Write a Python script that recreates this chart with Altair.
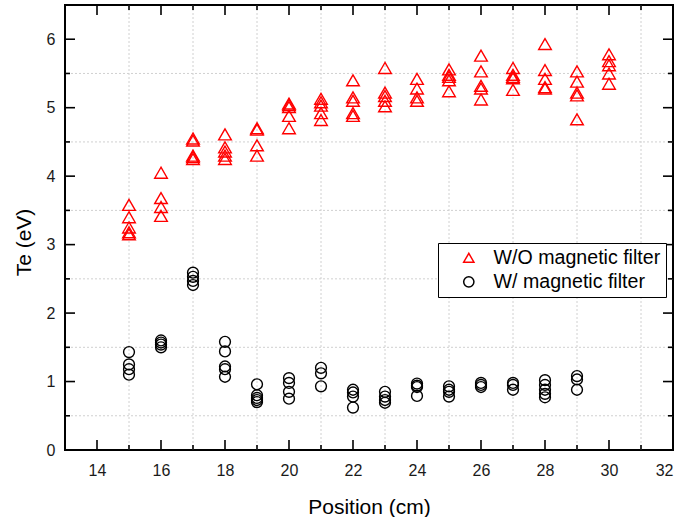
import altair as alt
import pandas as pd

# Electron temperature vs. position, with and without the magnetic filter
series_names = ["W/O magnetic filter", "W/ magnetic filter"]
series_colors = ["#ff0000", "#000000"]
series_shapes = ["triangle-up", "circle"]

positions_without = [15, 16, 17, 18, 19, 20, 21, 22, 23, 24, 25, 26, 27, 28, 29, 30]
te_without = [
    [3.58, 3.40, 3.25, 3.18, 3.15],
    [4.05, 3.68, 3.55, 3.42],
    [4.55, 4.52, 4.30, 4.28, 4.25],
    [4.61, 4.42, 4.36, 4.30, 4.25],
    [4.70, 4.68, 4.45, 4.30],
    [5.06, 5.04, 5.01, 4.88, 4.70],
    [5.13, 5.08, 5.03, 4.92, 4.82],
    [5.40, 5.15, 5.10, 4.92, 4.88],
    [5.58, 5.22, 5.17, 5.10, 5.02],
    [5.42, 5.28, 5.15, 5.10],
    [5.56, 5.48, 5.45, 5.40, 5.24],
    [5.76, 5.53, 5.32, 5.28, 5.12],
    [5.58, 5.48, 5.45, 5.43, 5.26],
    [5.93, 5.55, 5.42, 5.30, 5.28],
    [5.53, 5.38, 5.22, 5.18, 4.83],
    [5.78, 5.68, 5.62, 5.50, 5.35],
]

positions_with = [15, 16, 17, 18, 19, 20, 21, 22, 23, 24, 25, 26, 27, 28, 29]
te_with = [
    [1.43, 1.25, 1.18, 1.10],
    [1.60, 1.57, 1.54, 1.50],
    [2.59, 2.53, 2.47, 2.41],
    [1.58, 1.44, 1.22, 1.18, 1.07],
    [0.96, 0.80, 0.76, 0.73, 0.70],
    [1.05, 0.98, 0.85, 0.75],
    [1.20, 1.12, 0.93],
    [0.88, 0.84, 0.78, 0.62],
    [0.85, 0.78, 0.73, 0.69],
    [0.97, 0.94, 0.92, 0.79],
    [0.93, 0.88, 0.85, 0.78],
    [0.98, 0.95, 0.92],
    [0.98, 0.95, 0.88],
    [1.02, 0.95, 0.88, 0.82, 0.77],
    [1.08, 1.03, 0.88],
]

x_labels = [14, 16, 18, 20, 22, 24, 26, 28, 30, 32]
y_labels = [0, 1, 2, 3, 4, 5, 6]
x_major_ticks = [14, 16, 18, 20, 22, 24, 26, 28, 30]
x_minor_ticks = [15, 17, 19, 21, 23, 25, 27, 29, 31]
y_major_ticks = [1, 2, 3, 4, 5, 6]
y_minor_ticks = [0.5, 1.5, 2.5, 3.5, 4.5, 5.5]
x_grid = x_minor_ticks
y_grid = y_minor_ticks

W, H = 608, 445
FONT = "Liberation Sans"

rows = []
for pos, vals in zip(positions_without, te_without):
    for v in vals:
        rows.append({"position": pos, "te": v, "series": series_names[0], "msize": 160})
for pos, vals in zip(positions_with, te_with):
    for v in vals:
        rows.append({"position": pos, "te": v, "series": series_names[1], "msize": 118})
df = pd.DataFrame(rows)

xscale = alt.Scale(domain=[13, 32], nice=False, zero=False)
yscale = alt.Scale(domain=[0, 6.5], nice=False, zero=False)

# one axis definition per direction, shared by every layer so they merge cleanly
x_axis = alt.Axis(
    values=x_labels, title="Position (cm)", grid=False, ticks=False, domain=False,
    labelPadding=12, titleY=57, titleBaseline="middle", titleX=W / 2)
y_axis = alt.Axis(
    values=y_labels, title="Te (eV)", grid=False, ticks=False, domain=False,
    labelPadding=10, titleX=-41, titleY=237, titleBaseline="middle", titleAngle=270)

legend = alt.Legend(
    title=None, orient="none", legendX=373, legendY=238,
    strokeColor="black", fillColor="white", padding=5,
    labelFont=FONT, labelFontSize=19.6, labelColor="black", labelLimit=400,
    symbolSize=105, symbolStrokeWidth=1.5, symbolOffset=16,
    labelOffset=15, rowPadding=3,
)

points = alt.Chart(df).mark_point(filled=False, strokeWidth=1.4, opacity=1).encode(
    x=alt.X("position:Q", scale=xscale, axis=x_axis),
    y=alt.Y("te:Q", scale=yscale, axis=y_axis),
    color=alt.Color("series:N", scale=alt.Scale(domain=series_names, range=series_colors), legend=legend),
    shape=alt.Shape("series:N", scale=alt.Scale(domain=series_names, range=series_shapes), legend=legend),
    size=alt.Size("msize:Q", scale=None),
)


def grid(values, vertical):
    base = alt.Chart(pd.DataFrame({"v": values})).mark_rule(
        color="#d0d0d0", strokeWidth=1, strokeDash=[2, 2])
    if vertical:
        return base.encode(x=alt.X("v:Q", scale=xscale, axis=x_axis))
    return base.encode(y=alt.Y("v:Q", scale=yscale, axis=y_axis))


def ticks(values, side, length):
    base = alt.Chart(pd.DataFrame({"v": values})).mark_rule(color="black", strokeWidth=1.6)
    if side == "bottom":
        return base.encode(x=alt.X("v:Q", scale=xscale, axis=x_axis),
                           y=alt.value(H), y2=alt.value(H - length))
    if side == "top":
        return base.encode(x=alt.X("v:Q", scale=xscale, axis=x_axis),
                           y=alt.value(0), y2=alt.value(length))
    if side == "left":
        return base.encode(y=alt.Y("v:Q", scale=yscale, axis=y_axis),
                           x=alt.value(0), x2=alt.value(length))
    return base.encode(y=alt.Y("v:Q", scale=yscale, axis=y_axis),
                       x=alt.value(W), x2=alt.value(W - length))


layers = [grid(x_grid, True), grid(y_grid, False), points]
for side in ["bottom", "top"]:
    layers.append(ticks(x_major_ticks, side, 10))
    layers.append(ticks(x_minor_ticks, side, 5))
for side in ["left", "right"]:
    layers.append(ticks(y_major_ticks, side, 10))
    layers.append(ticks(y_minor_ticks, side, 5))

chart = alt.layer(*layers).properties(
    width=W, height=H,
    autosize=alt.AutoSizeParams(type="none"),
    padding={"left": 65, "top": 5, "right": 10, "bottom": 67},
    background="white",
).configure_view(
    stroke="black", strokeWidth=2
).configure_axis(
    labelFont=FONT, labelFontSize=16, labelColor="#1a1a1a",
    titleFont=FONT, titleFontSize=21, titleFontWeight="normal", titleColor="black",
)

chart.save("out.html", embed_options={"renderer": "svg", "actions": False})
